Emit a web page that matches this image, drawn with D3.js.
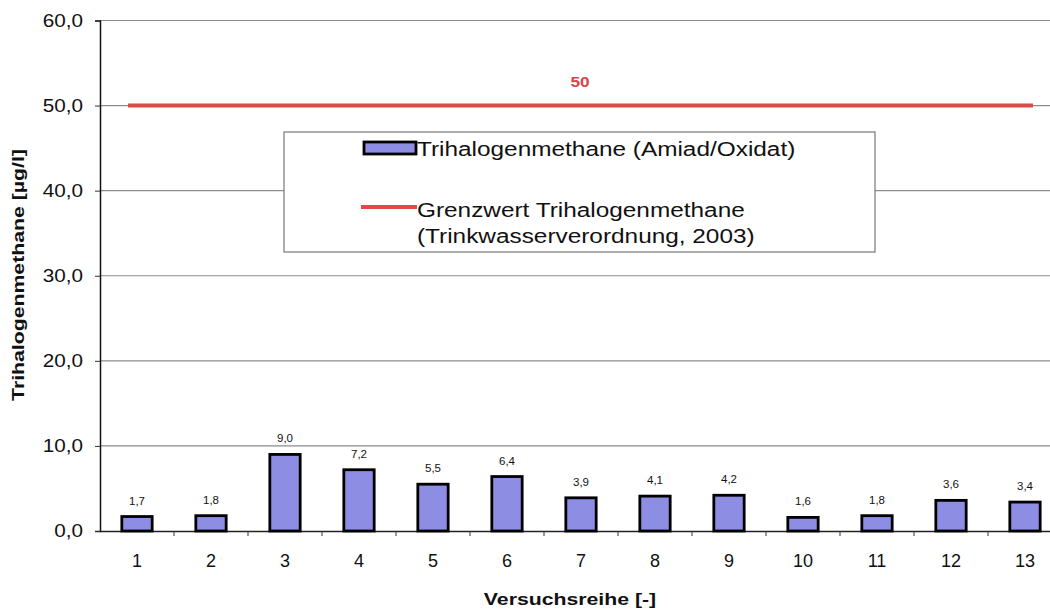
<!DOCTYPE html>
<html>
<head>
<meta charset="utf-8">
<script src="https://cdn.jsdelivr.net/npm/d3@7"></script>
<style>
  body { margin: 0; background: #fff; }
  text { font-family: "Liberation Sans", Arial, sans-serif; }
</style>
</head>
<body>
<div id="chart"></div>
<script>
var runs = ["1","2","3","4","5","6","7","8","9","10","11","12","13"];
var thm = [1.7, 1.8, 9.0, 7.2, 5.5, 6.4, 3.9, 4.1, 4.2, 1.6, 1.8, 3.6, 3.4];
var limitValue = 50;
var yTicks = [0, 10, 20, 30, 40, 50, 60];
var legendBar = "Trihalogenmethane (Amiad/Oxidat)";
var legendLine = ["Grenzwert Trihalogenmethane", "(Trinkwasserverordnung, 2003)"];

// the scanned original is a bit wider than tall, stretch the text
function placeText(sel, x, y, k, rot) {
    sel.attr("transform", "translate(" + x + "," + y + ")" + (rot ? " rotate(" + rot + ")" : "") + " scale(" + k + ",1)");
    return sel;
}

function init() {
    var w = 1050, h = 611;
    var left = 100, right = 1062, top = 20.5, bottom = 531;

    var svg = d3.select("#chart").append("svg")
        .attr("width", w).attr("height", h);

    var x = d3.scaleBand().domain(runs).range([left, right]).padding(0);
    var y = d3.scaleLinear().domain([0, 60]).range([bottom, top]);
    var fmt = function(v) { return d3.format(".1f")(v).replace(".", ","); };

    // grid lines
    svg.selectAll("line.grid")
       .data(yTicks.filter(function(d) { return d > 0; }))
       .enter().append("line")
       .attr("x1", left).attr("x2", right)
       .attr("y1", function(d) { return y(d); })
       .attr("y2", function(d) { return y(d); })
       .attr("stroke", "#8c8c8c").attr("stroke-width", 1.2);

    // y axis
    var yAxis = svg.append("g")
        .attr("transform", "translate(" + left + ",0)")
        .call(d3.axisLeft(y).tickValues(yTicks).tickSize(5).tickPadding(12).tickFormat(fmt));
    yAxis.select(".domain").attr("stroke", "#111").attr("stroke-width", 1.5);
    yAxis.selectAll(".tick line").attr("stroke", "#333");
    yAxis.selectAll("text")
         .attr("font-size", 18).attr("fill", "#111")
         .attr("x", -17 / 1.15)
         .attr("transform", "scale(1.15,1)");

    // x axis
    var xAxis = svg.append("g")
        .attr("transform", "translate(0," + bottom + ")")
        .call(d3.axisBottom(x).tickSize(0).tickPadding(23));
    xAxis.select(".domain").attr("stroke", "#222").attr("stroke-width", 1.5);
    xAxis.selectAll("text").attr("font-size", 18).attr("fill", "#111");
    svg.selectAll("line.xt")
       .data(runs.slice(1))
       .enter().append("line")
       .attr("x1", function(d) { return x(d); }).attr("x2", function(d) { return x(d); })
       .attr("y1", bottom).attr("y2", bottom + 5)
       .attr("stroke", "#333");

    // bars
    var bw = x.bandwidth() * 0.41;
    svg.selectAll("rect.bar")
       .data(thm)
       .enter().append("rect")
       .attr("x", function(d, i) { return x(runs[i]) + x.bandwidth() / 2 - bw / 2; })
       .attr("y", function(d) { return y(d); })
       .attr("width", bw)
       .attr("height", function(d) { return bottom - y(d); })
       .attr("fill", "#8d8ee3")
       .attr("stroke", "#000").attr("stroke-width", 2.8);

    svg.selectAll("text.val")
       .data(thm)
       .enter().append("text")
       .attr("x", function(d, i) { return x(runs[i]) + x.bandwidth() / 2; })
       .attr("y", function(d) { return y(d) - 12; })
       .attr("text-anchor", "middle")
       .attr("font-size", 11.5).attr("fill", "#111")
       .text(fmt);

    // limit line
    var x0 = x(runs[0]) + x.bandwidth() / 2 - 9;
    var x1 = x(runs[runs.length - 1]) + x.bandwidth() / 2 + 8;
    svg.append("line")
       .attr("x1", x0).attr("x2", x1)
       .attr("y1", y(limitValue)).attr("y2", y(limitValue))
       .attr("stroke", "#de4a4a").attr("stroke-width", 4);
    placeText(svg.append("text"), 580, y(limitValue) - 19, 1.15)
       .attr("text-anchor", "middle")
       .attr("font-size", 15).attr("font-weight", "bold").attr("fill", "#d9434a")
       .text(limitValue);

    // legend
    var lg = svg.append("g");
    lg.append("rect")
      .attr("x", 284).attr("y", 132).attr("width", 591).attr("height", 120)
      .attr("fill", "#fff").attr("stroke", "#777").attr("stroke-width", 1.2);
    lg.append("rect")
      .attr("x", 364).attr("y", 142).attr("width", 52).attr("height", 12)
      .attr("fill", "#8d8ee3").attr("stroke", "#000").attr("stroke-width", 2.8);
    placeText(lg.append("text"), 417, 156, 1.25)
      .attr("font-size", 19.5).attr("fill", "#111")
      .text(legendBar);
    lg.append("line")
      .attr("x1", 361).attr("x2", 417).attr("y1", 207).attr("y2", 207)
      .attr("stroke", "#de4a4a").attr("stroke-width", 4);
    legendLine.forEach(function(t, i) {
        placeText(lg.append("text"), 417, 217 + i * 26, 1.25)
          .attr("font-size", 19.5).attr("fill", "#111")
          .text(t);
    });

    // axis titles
    placeText(svg.append("text"), 24, 275, 1.25, -90)
       .attr("text-anchor", "middle")
       .attr("font-size", 17).attr("font-weight", "bold").attr("fill", "#111")
       .text("Trihalogenmethane [µg/l]");
    placeText(svg.append("text"), 570, 605, 1.25)
       .attr("text-anchor", "middle")
       .attr("font-size", 17).attr("font-weight", "bold").attr("fill", "#111")
       .text("Versuchsreihe [-]");
}

window.onload = init;
</script>
</body>
</html>
